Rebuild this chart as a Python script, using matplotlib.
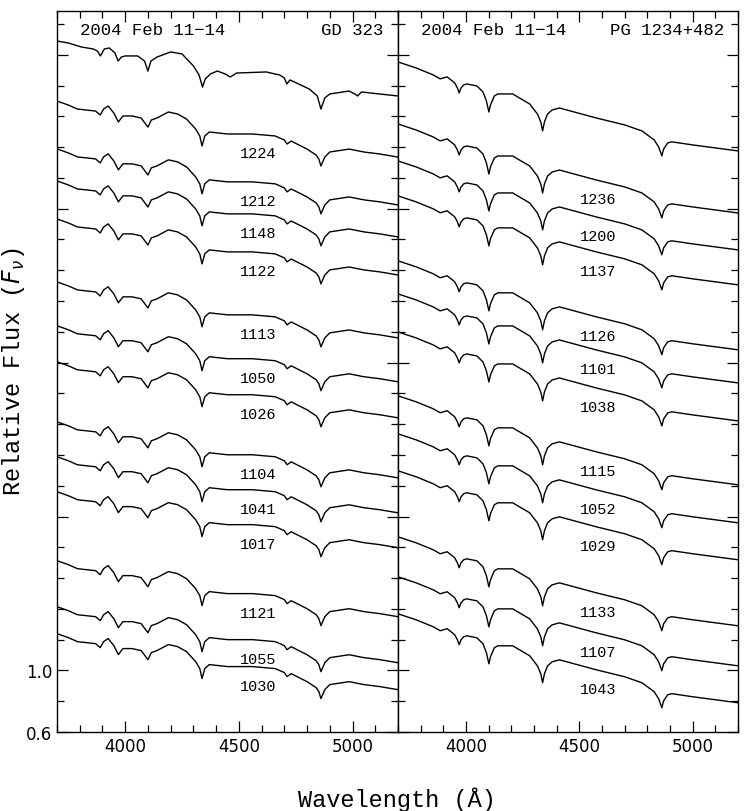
import numpy as np
import matplotlib
matplotlib.use("Agg")
import matplotlib.pyplot as plt
from matplotlib.ticker import MultipleLocator, FixedLocator, FuncFormatter

# GD 323: mean spectrum shape (flux relative to 3700 A)
gd_top_wave = [3700, 3750, 3808, 3860, 3878, 3891, 3908, 3930, 3955, 3969, 3983, 4000,
               4055, 4085, 4100, 4113, 4140, 4200, 4250, 4300, 4325, 4340, 4352, 4375,
               4405, 4440, 4462, 4490, 4620, 4680, 4700, 4711, 4725, 4810, 4845, 4861,
               4878, 4900, 4985, 5010, 5022, 5040, 5080, 5200]
gd_top_rel = [0, -0.013, -0.039, -0.052, -0.065, -0.097, -0.052, -0.045, -0.078, -0.130,
              -0.104, -0.097, -0.097, -0.130, -0.195, -0.130, -0.104, -0.071, -0.084,
              -0.162, -0.221, -0.299, -0.247, -0.214, -0.195, -0.214, -0.234, -0.208,
              -0.201, -0.221, -0.240, -0.279, -0.253, -0.312, -0.357, -0.442, -0.370,
              -0.344, -0.325, -0.344, -0.357, -0.331, -0.338, -0.357]

# GD 323: individual spectra shape
gd_wave = [3700, 3750, 3790, 3870, 3890, 3905, 3925, 3950, 3970, 3990, 4030, 4070, 4100,
           4115, 4140, 4190, 4230, 4270, 4310, 4328, 4338, 4350, 4370, 4450, 4560, 4660,
           4700, 4712, 4730, 4800, 4840, 4852, 4861, 4878, 4900, 4985, 5050, 5120, 5200]
gd_rel = [0, -0.026, -0.052, -0.065, -0.091, -0.052, -0.032, -0.078, -0.136, -0.097,
          -0.097, -0.110, -0.169, -0.123, -0.110, -0.071, -0.084, -0.117, -0.182, -0.227,
          -0.292, -0.227, -0.201, -0.214, -0.214, -0.227, -0.253, -0.279, -0.260, -0.312,
          -0.351, -0.377, -0.422, -0.364, -0.331, -0.312, -0.331, -0.344, -0.364]

gd_start = [5.089, 4.699, 4.388, 4.180, 3.933, 3.524, 3.239, 3.005, 2.615, 2.388, 2.161,
            1.713, 1.414, 1.239]
gd_labels = ["", "1224", "1212", "1148", "1122", "1113", "1050", "1026", "1104", "1041",
             "1017", "1121", "1055", "1030"]

# PG 1234+482 spectrum shape
pg_wave = [3700, 3780, 3855, 3886, 3917, 3950, 3962, 3970, 3978, 3990, 4004, 4048, 4075,
           4090, 4101, 4108, 4125, 4140, 4206, 4281, 4315, 4330, 4338, 4346, 4360, 4380,
           4412, 4575, 4700, 4776, 4830, 4850, 4864, 4872, 4890, 4908, 5000, 5200]
pg_rel = [0, -0.039, -0.084, -0.110, -0.097, -0.136, -0.169, -0.201, -0.169, -0.149,
          -0.143, -0.156, -0.195, -0.253, -0.325, -0.279, -0.221, -0.208, -0.208, -0.273,
          -0.338, -0.390, -0.448, -0.390, -0.338, -0.312, -0.299, -0.364, -0.409, -0.448,
          -0.506, -0.552, -0.610, -0.565, -0.526, -0.519, -0.539, -0.578]

pg_start = [4.953, 4.550, 4.310, 4.083, 3.661, 3.446, 3.199, 2.784, 2.537, 2.297, 1.868,
            1.608, 1.368]
pg_labels = ["", "1236", "1200", "1137", "1126", "1101", "1038", "1115", "1052", "1029",
             "1133", "1107", "1043"]

date_text = "2004 Feb 11\u221214"
label_wave = 4585

mono = "Liberation Mono"

fig = plt.figure(figsize=(7.44, 8.12), dpi=100)
ax1 = fig.add_axes([57 / 744, 79 / 812, 341 / 744, 721 / 812])
ax2 = fig.add_axes([398 / 744, 79 / 812, 340 / 744, 721 / 812], sharey=ax1)


def draw_panel(ax, starts, labels, star, top_wave, top_rel, wave, rel):
    for i, (s, lab) in enumerate(zip(starts, labels)):
        if i == 0:
            w, r = top_wave, top_rel
        else:
            w, r = wave, rel
        f = s + np.array(r)
        ax.plot(w, f, color="black", lw=1.0)
        if lab:
            yl = s + np.interp(label_wave, w, r) - 0.12
            ax.text(label_wave, yl, lab, family=mono, fontsize=11,
                    ha="center", va="center")
    ax.set_xlim(3700, 5200)
    ax.set_ylim(0.6, 5.284)
    ax.xaxis.set_major_locator(MultipleLocator(500))
    ax.xaxis.set_minor_locator(MultipleLocator(100))
    ax.yaxis.set_major_locator(FixedLocator([0.6, 1, 2, 3, 4, 5]))
    ax.yaxis.set_minor_locator(MultipleLocator(0.2))
    ax.tick_params(which="both", direction="in", top=True, right=True,
                   labelsize=12, width=0.9)
    ax.tick_params(which="major", length=8)
    ax.tick_params(which="minor", length=5)
    for sp in ax.spines.values():
        sp.set_linewidth(1.0)
    ax.text(0.067, 0.975, date_text, transform=ax.transAxes, family=mono,
            fontsize=12.5, ha="left", va="center")
    ax.text(0.958, 0.975, star, transform=ax.transAxes, family=mono,
            fontsize=12.5, ha="right", va="center")


draw_panel(ax1, gd_start, gd_labels, "GD 323", gd_top_wave, gd_top_rel, gd_wave, gd_rel)
draw_panel(ax2, pg_start, pg_labels, "PG 1234+482", pg_wave, pg_rel, pg_wave, pg_rel)

ax1.yaxis.set_major_formatter(FuncFormatter(
    lambda v, p: "%.1f" % v if abs(v - 0.6) < 1e-6 or abs(v - 1.0) < 1e-6 else ""))
ax2.tick_params(labelleft=False)

fig.text(397 / 744, 1 - 800 / 812, "Wavelength (\u00c5)", family=mono, fontsize=17,
         ha="center", va="center")
fig.text(14 / 744, 1 - 372 / 812, r"Relative Flux ($F_\nu$)", family=mono, fontsize=17,
         rotation=90, ha="center", va="center")

fig.savefig("out.png", dpi=100)
